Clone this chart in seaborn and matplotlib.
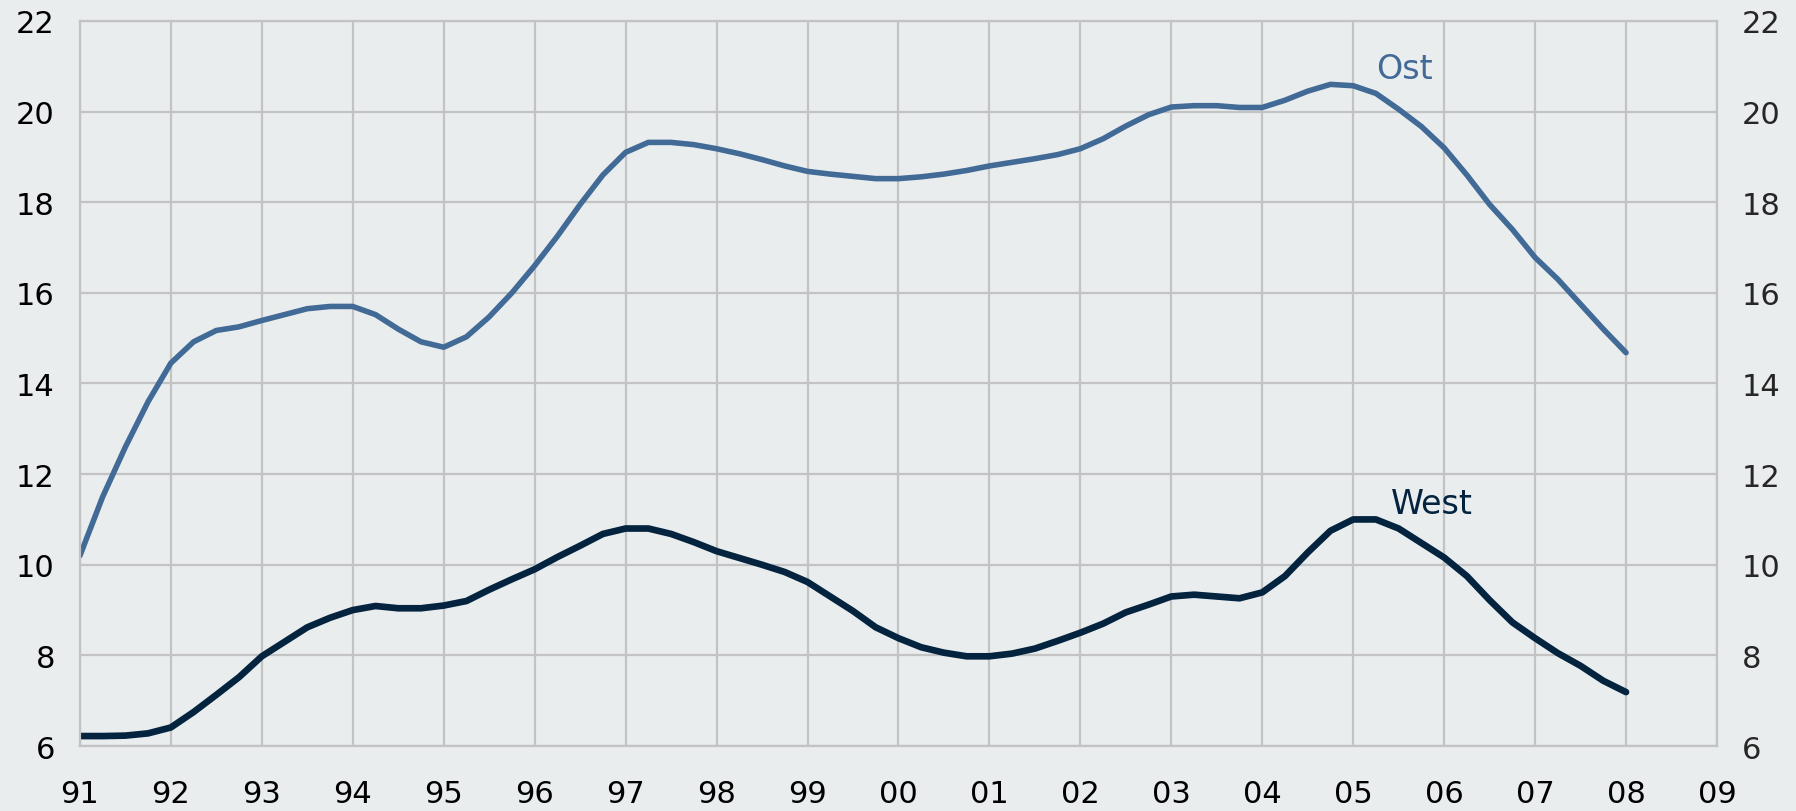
import numpy as np
import pandas as pd
import matplotlib
matplotlib.use("Agg")
import matplotlib.pyplot as plt
import seaborn as sns

# quarterly values, 1991Q1 .. 2008Q1
ost = [10.2, 11.5, 12.6, 13.6,
       14.45, 14.92, 15.17, 15.25,
       15.39, 15.52, 15.65, 15.7,
       15.7, 15.52, 15.2, 14.92,
       14.8, 15.03, 15.47, 16.0,
       16.6, 17.25, 17.95, 18.6,
       19.1, 19.32, 19.32, 19.27,
       19.18, 19.07, 18.94, 18.8,
       18.68, 18.62, 18.57, 18.52,
       18.52, 18.56, 18.62, 18.7,
       18.8, 18.88, 18.96, 19.05,
       19.18, 19.4, 19.68, 19.93,
       20.1, 20.13, 20.13, 20.09,
       20.09, 20.25, 20.45, 20.6,
       20.57, 20.4, 20.05, 19.67,
       19.2, 18.6, 17.95, 17.4,
       16.78, 16.3, 15.75, 15.2,
       14.68]
west = [6.22, 6.22, 6.23, 6.28,
        6.41, 6.75, 7.13, 7.52,
        7.98, 8.3, 8.62, 8.83,
        9.0, 9.09, 9.04, 9.04,
        9.1, 9.2, 9.45, 9.68,
        9.9, 10.17, 10.42, 10.68,
        10.8, 10.8, 10.68, 10.5,
        10.3, 10.15, 10.0, 9.84,
        9.62, 9.3, 8.98, 8.62,
        8.38, 8.18, 8.06, 7.98,
        7.98, 8.04, 8.15, 8.32,
        8.5, 8.7, 8.95, 9.12,
        9.3, 9.34, 9.3, 9.26,
        9.39, 9.75, 10.27, 10.75,
        11.0, 11.0, 10.8, 10.48,
        10.16, 9.75, 9.22, 8.73,
        8.38, 8.05, 7.77, 7.44,
        7.19]
years = list(range(1991, 2010))
year_labels = [str(y)[2:] for y in years]
y_ticks = [6, 8, 10, 12, 14, 16, 18, 20, 22]

t = 1991 + 0.25 * np.arange(len(ost))
df = pd.DataFrame({"t": t, "Ost": ost, "West": west})

c_ost = "#426a96"
c_west = "#03233f"
bg = "#e9edee"
grid_c = "#c3c3c3"

sns.set_style("white")
plt.rcParams['font.family'] = ['DejaVu Sans']

fig = plt.figure(figsize=(17.96, 8.12), dpi=100, facecolor=bg)
ax = fig.add_axes([0.0445, 0.080, 0.9115, 0.893])
ax.set_facecolor(bg)

sns.lineplot(data=df, x="t", y="Ost", ax=ax, color=c_ost, lw=4.0)
sns.lineplot(data=df, x="t", y="West", ax=ax, color=c_west, lw=4.8)

ax.set_xlim(1991, 2009)
ax.set_ylim(6, 22)
ax.set_xticks(years)
ax.set_xticklabels(year_labels)
ax.set_yticks(y_ticks)
ax.set_xlabel("")
ax.set_ylabel("")
ax.grid(True, color=grid_c, lw=1.6)
ax.set_axisbelow(True)
for s in ax.spines.values():
    s.set_color(grid_c)
    s.set_linewidth(1.6)
ax.tick_params(axis="both", length=0, labelsize=22, colors="black")
ax.tick_params(axis="y", pad=18)
ax.tick_params(axis="x", pad=24)

ax2 = ax.twinx()
ax2.set_ylim(6, 22)
ax2.set_yticks(y_ticks)
ax2.tick_params(axis="y", length=0, labelsize=22, pad=18)
for s in ax2.spines.values():
    s.set_visible(False)

ax.text(2005.56, 20.95, "Ost", color=c_ost, fontsize=24, ha="center", va="center")
ax.text(2005.87, 11.35, "West", color=c_west, fontsize=24, ha="center", va="center")

fig.savefig("out.png", dpi=100, facecolor=bg)
